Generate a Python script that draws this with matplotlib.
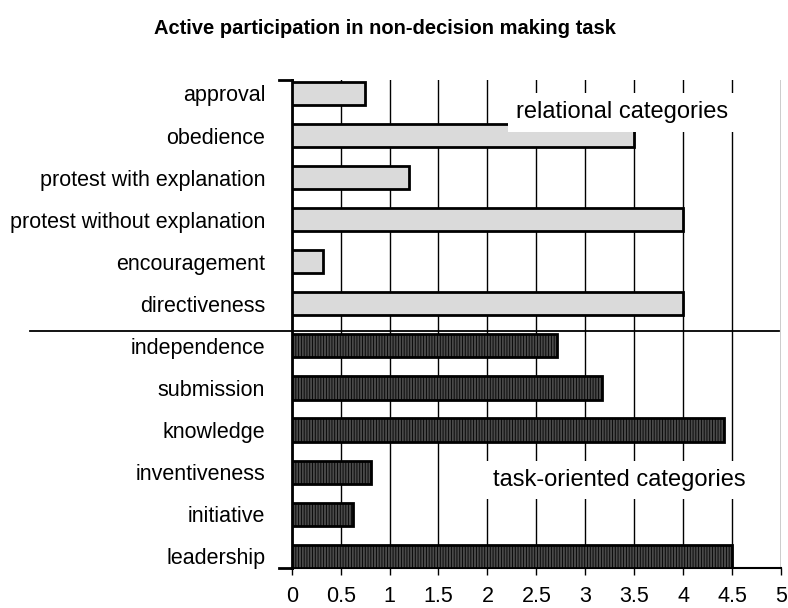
import numpy as np
import matplotlib
matplotlib.use("Agg")
import matplotlib.pyplot as plt
import matplotlib.transforms as mtransforms

# ==================================================
# Data
# ==================================================
relational_labels = ["approval", "obedience", "protest with explanation",
                     "protest without explanation", "encouragement", "directiveness"]
relational_values = [0.75, 3.5, 1.2, 4.0, 0.32, 4.0]

task_labels = ["independence", "submission", "knowledge",
               "inventiveness", "initiative", "leadership"]
task_values = [2.71, 3.17, 4.42, 0.81, 0.63, 4.5]

x_ticks = [0, 0.5, 1, 1.5, 2, 2.5, 3, 3.5, 4, 4.5, 5]
x_tick_labels = ["0", "0.5", "1", "1.5", "2", "2.5", "3", "3.5", "4", "4.5", "5"]

# ==================================================
# Plot
# ==================================================
plt.rcParams["font.family"] = ["Liberation Sans", "DejaVu Sans"]
plt.rcParams["hatch.linewidth"] = 0.6

labels = relational_labels + task_labels
n = len(labels)
pos = np.arange(n)[::-1]  # approval at top
pos_rel = pos[:len(relational_labels)]
pos_task = pos[len(relational_labels):]

fig = plt.figure(figsize=(7.88, 6.08), dpi=100)
ax = fig.add_axes([291.7 / 788, 1 - 568 / 608, (781 - 291.7) / 788, (568 - 80) / 608])

ax.barh(pos_rel, relational_values, height=0.55, color="#dadada",
        edgecolor="black", linewidth=2, zorder=3)
ax.barh(pos_task, task_values, height=0.55, color="#4a4a4a",
        edgecolor="black", linewidth=2, hatch="||||||", zorder=3)

ax.set_xlim(0, 5)
ax.set_ylim(-0.28, n - 1 + 0.32)
ax.set_xticks(x_ticks)
ax.set_xticklabels(x_tick_labels, fontsize=15.5)
ax.set_yticks(pos)
ax.set_yticklabels(labels, fontsize=15.5)
ax.tick_params(axis="y", length=0, pad=19)
ax.tick_params(axis="x", length=5, width=1, pad=8, direction="out")

for s in ["top", "right"]:
    ax.spines[s].set_visible(False)
ax.spines["left"].set_linewidth(2)
ax.spines["bottom"].set_linewidth(1.5)

ax.grid(axis="x", color="black", linewidth=1, zorder=0)
ax.set_axisbelow(True)

# little ticks at the ends of the category axis
trans = mtransforms.blended_transform_factory(ax.transAxes, ax.transData)
for y in ax.get_ylim():
    ax.plot([-0.025, 0], [y, y], color="black", linewidth=2, transform=trans, clip_on=False)

# separator between the two groups
ax.plot([-0.535, 0.995], [5.36, 5.36], color="black", linewidth=1.3,
        transform=trans, clip_on=False, zorder=4)

ax.text(0.675, 10.55, "relational categories", fontsize=17, ha="center", va="center",
        transform=trans, zorder=5,
        bbox=dict(facecolor="white", edgecolor="none", pad=6))
ax.text(0.67, 1.81, "task-oriented categories", fontsize=17, ha="center", va="center",
        transform=trans, zorder=5,
        bbox=dict(facecolor="white", edgecolor="none", pad=6))

fig.text(385 / 788, 1 - 28 / 608, "Active participation in non-decision making task",
         fontsize=14.5, fontweight="bold", ha="center", va="center")

fig.savefig("out.png", dpi=100)
